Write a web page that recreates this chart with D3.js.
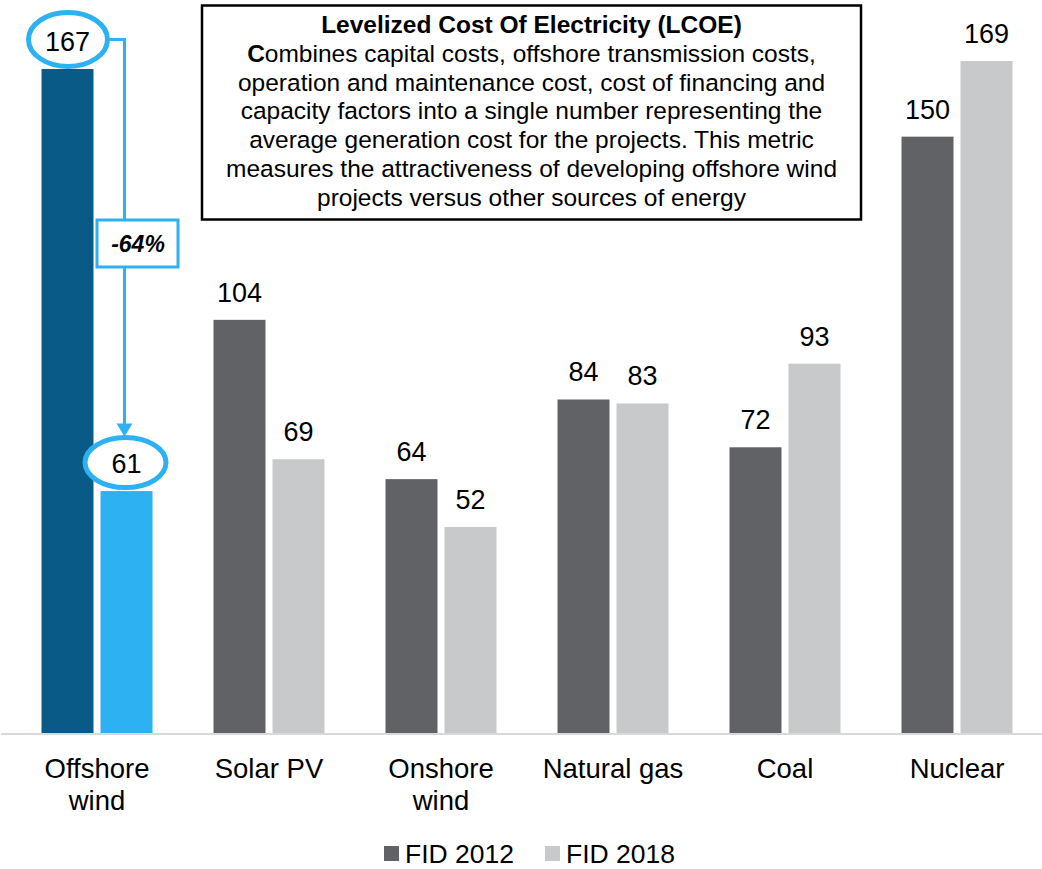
<!DOCTYPE html>
<html>
<head>
<meta charset="utf-8">
<script src="https://cdn.jsdelivr.net/npm/d3@7"></script>
<style>
  html, body { margin: 0; padding: 0; background: #ffffff; }
  svg { display: block; font-family: "Liberation Sans", Arial, Helvetica, sans-serif; }
</style>
</head>
<body>
<svg id="chart" width="1042" height="869"></svg>
<script>
// LCOE by technology, FID 2012 vs FID 2018
const categories = ["Offshore\nwind", "Solar PV", "Onshore\nwind", "Natural gas", "Coal", "Nuclear"];
const seriesNames = ["FID 2012", "FID 2018"];
const fid2012 = [167, 104, 64, 84, 72, 150];
const fid2018 = [61, 69, 52, 83, 93, 169];
const changeLabel = "-64%";
const boxTitle = "Levelized Cost Of Electricity (LCOE)";
const boxLines = [
  "Combines capital costs, offshore transmission costs,",
  "operation and maintenance cost, cost of financing and",
  "capacity factors into a single number representing the",
  "average generation cost for the projects. This metric",
  "measures the attractiveness of developing offshore wind",
  "projects versus other sources of energy"
];

const colors = {
  dark: "#616266",
  light: "#c8c9cb",
  offDark: "#0a5a88",
  offLight: "#2eb1f3",
  axis: "#d9d9d9"
};

const svg = d3.select("#chart");
const baseY = 734;

const x0 = d3.scaleBand().domain(categories).range([11, 1043]).paddingInner(0).paddingOuter(0);
const x1 = d3.scaleBand().domain(seriesNames)
  .range([x0.bandwidth() / 2 - 55.5, x0.bandwidth() / 2 + 55.5])
  .paddingInner(0.119).paddingOuter(0);
const y = d3.scaleLinear().domain([0, 169]).range([baseY, 61]);

const rows = categories.map((c, i) => ({ cat: c, i, values: [
  { s: seriesNames[0], v: fid2012[i] },
  { s: seriesNames[1], v: fid2018[i] }
]}));

function barColor(i, s) {
  if (i === 0) return s === seriesNames[0] ? colors.offDark : colors.offLight;
  return s === seriesNames[0] ? colors.dark : colors.light;
}

// bars
const groups = svg.append("g").selectAll("g").data(rows).join("g")
  .attr("transform", d => `translate(${x0(d.cat)},0)`);

groups.selectAll("rect").data(d => d.values.map(v => ({ ...v, i: d.i }))).join("rect")
  .attr("x", d => x1(d.s))
  .attr("width", x1.bandwidth())
  .attr("y", d => y(d.v))
  .attr("height", d => baseY - y(d.v))
  .attr("fill", d => barColor(d.i, d.s));

// value labels
groups.selectAll("text.val").data(d => d.values.map(v => ({ ...v, i: d.i }))).join("text")
  .attr("class", "val")
  .attr("x", d => x1(d.s) + x1.bandwidth() / 2)
  .attr("y", d => y(d.v) - 18)
  .attr("text-anchor", "middle")
  .attr("font-size", 27)
  .attr("fill", "#000")
  .text(d => d.v);

// category axis
const axis = svg.append("g")
  .attr("transform", `translate(0,${baseY})`)
  .call(d3.axisBottom(x0).tickSize(0).tickPadding(0));
axis.select(".domain").attr("stroke", colors.axis).attr("stroke-width", 2)
  .attr("d", `M1,0H1042`);
axis.selectAll(".tick text").each(function(d) {
  const t = d3.select(this);
  t.text(null).attr("y", 0).attr("dy", null)
    .attr("font-size", 27.5).attr("fill", "#000")
    .attr("font-family", "'Liberation Sans', Arial, sans-serif");
  d.split("\n").forEach((line, k) => {
    t.append("tspan").attr("x", 0).attr("y", 44 + k * 32).text(line);
  });
});

// highlight of the offshore wind change
const blue = colors.offLight;
const xA = x0(categories[0]) + x1(seriesNames[0]) + x1.bandwidth() / 2;
const xB = x0(categories[0]) + x1(seriesNames[1]) + x1.bandwidth() / 2;
const eA = { cx: xA + 0.5, cy: y(fid2012[0]) - 29.5, rx: 39.5, ry: 27 };
const eB = { cx: xB - 1, cy: y(fid2018[0]) - 28.5, rx: 40.5, ry: 25 };
const lineX = 124.5;
const ann = svg.append("g");

ann.append("path")
  .attr("d", `M${eA.cx + eA.rx},${eA.cy}H${lineX}V${eB.cy - eB.ry - 12}`)
  .attr("fill", "none").attr("stroke", blue).attr("stroke-width", 3);
ann.append("path")
  .attr("d", `M${lineX - 8},${eB.cy - eB.ry - 14}L${lineX + 8},${eB.cy - eB.ry - 14}L${lineX},${eB.cy - eB.ry - 1}Z`)
  .attr("fill", blue);

[eA, eB].forEach(e => {
  ann.append("ellipse")
    .attr("cx", e.cx).attr("cy", e.cy).attr("rx", e.rx).attr("ry", e.ry)
    .attr("fill", "#fff").attr("stroke", blue).attr("stroke-width", 5);
});
ann.append("text").attr("x", xA).attr("y", y(fid2012[0]) - 18)
  .attr("text-anchor", "middle").attr("font-size", 27).text(fid2012[0]);
ann.append("text").attr("x", xB).attr("y", y(fid2018[0]) - 18)
  .attr("text-anchor", "middle").attr("font-size", 27).text(fid2018[0]);

ann.append("rect").attr("x", 97).attr("y", 220).attr("width", 81).attr("height", 47)
  .attr("fill", "#fff").attr("stroke", blue).attr("stroke-width", 3);
ann.append("text").attr("x", 138).attr("y", 252)
  .attr("text-anchor", "middle").attr("font-size", 23)
  .attr("font-weight", "bold").attr("font-style", "italic")
  .text(changeLabel);

// definition box
const box = svg.append("g");
box.append("rect").attr("x", 202).attr("y", 5.5).attr("width", 659).attr("height", 214)
  .attr("fill", "#fff").attr("stroke", "#000").attr("stroke-width", 2.5);
const bt = box.append("text").attr("text-anchor", "middle").attr("font-size", 24.5).attr("fill", "#000");
bt.append("tspan").attr("x", 531.5).attr("y", 33).attr("font-weight", "bold").text(boxTitle);
boxLines.forEach((line, k) => {
  const ts = bt.append("tspan").attr("x", 531.5).attr("y", 33 + (k + 1) * 28.8);
  if (k === 0) {
    ts.append("tspan").attr("font-weight", "bold").text(line[0]);
    ts.append("tspan").text(line.slice(1));
  } else {
    ts.text(line);
  }
});

// legend
const legend = svg.append("g");
const legendX = [384, 545];
seriesNames.forEach((s, k) => {
  legend.append("rect").attr("x", legendX[k]).attr("y", 846).attr("width", 15).attr("height", 15)
    .attr("fill", k === 0 ? colors.dark : colors.light);
  legend.append("text").attr("x", legendX[k] + 21).attr("y", 863)
    .attr("font-size", 26.5).attr("fill", "#000").text(s);
});
</script>
</body>
</html>
